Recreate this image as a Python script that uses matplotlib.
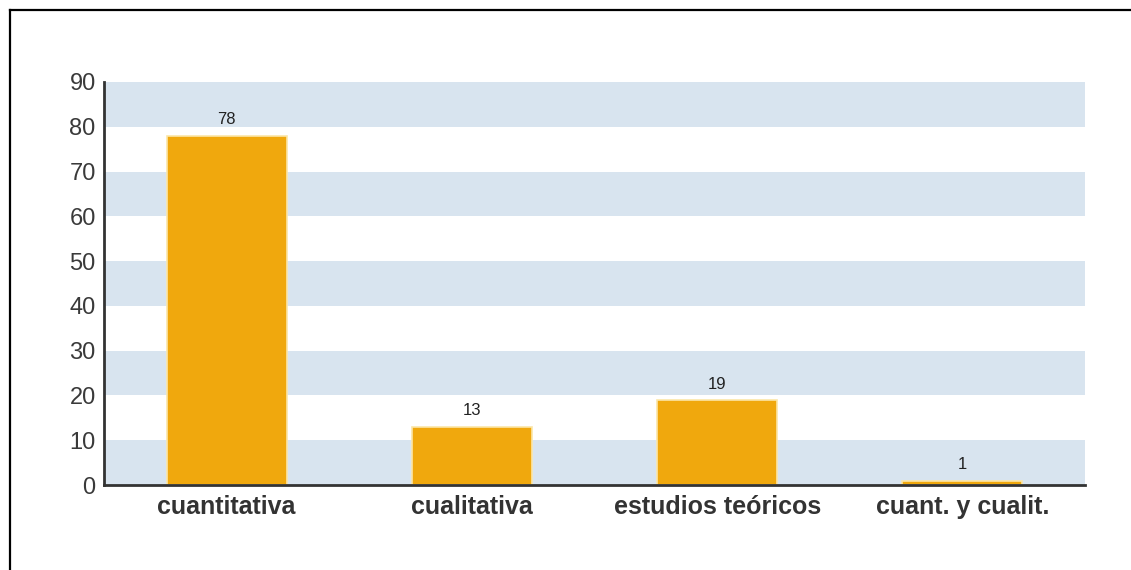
import matplotlib
matplotlib.use("Agg")
import matplotlib.pyplot as plt
from matplotlib.lines import Line2D

categories = ["cuantitativa", "cualitativa", "estudios teóricos", "cuant. y cualit."]
values = [78, 13, 19, 1]
y_ticks = [0, 10, 20, 30, 40, 50, 60, 70, 80, 90]

W, H = 1131, 570
fig = plt.figure(figsize=(W / 100, H / 100), dpi=100)
fig.patch.set_facecolor("white")

ax = fig.add_axes([104 / W, 1 - 485 / H, (1085 - 104) / W, (485 - 82) / H])
ax.set_xlim(-0.5, len(categories) - 0.5)
ax.set_ylim(0, 90)

# alternating horizontal bands
for lo in y_ticks[:-1]:
    if (lo // 10) % 2 == 0:
        ax.axhspan(lo, lo + 10, color="#d8e4ef", lw=0, zorder=0)

x = list(range(len(categories)))
bars = ax.bar(x, values, width=0.49, color="#f0a80d", edgecolor="#fbe6a8",
              linewidth=1.2, zorder=2)
for xi, v in zip(x, values):
    ax.annotate(str(v), (xi, v), xytext=(0, 6), textcoords="offset points",
                ha="center", va="bottom", fontsize=12, color="#222222",
                family="Liberation Sans")

ax.set_yticks(y_ticks)
ax.set_yticklabels([str(t) for t in y_ticks], fontsize=17, color="#3a3a3a",
                   family="Liberation Sans")
ax.set_xticks(x)
ax.set_xticklabels(categories, fontsize=18, fontweight="bold", color="#333333",
                   family="Liberation Sans")
ax.tick_params(axis="both", length=0)
ax.tick_params(axis="y", pad=6)
ax.tick_params(axis="x", pad=7)

for s in ("top", "right"):
    ax.spines[s].set_visible(False)
for s in ("left", "bottom"):
    ax.spines[s].set_color("#333333")
    ax.spines[s].set_linewidth(2)
    ax.spines[s].set_zorder(3)

# frame lines along the top and left of the figure
fig.add_artist(Line2D([10 / W, 1], [1 - 10 / H, 1 - 10 / H], color="black", lw=1.6,
                      transform=fig.transFigure))
fig.add_artist(Line2D([10 / W, 10 / W], [0, 1 - 10 / H], color="black", lw=1.6,
                      transform=fig.transFigure))

fig.savefig("out.png", dpi=100, facecolor="white")
